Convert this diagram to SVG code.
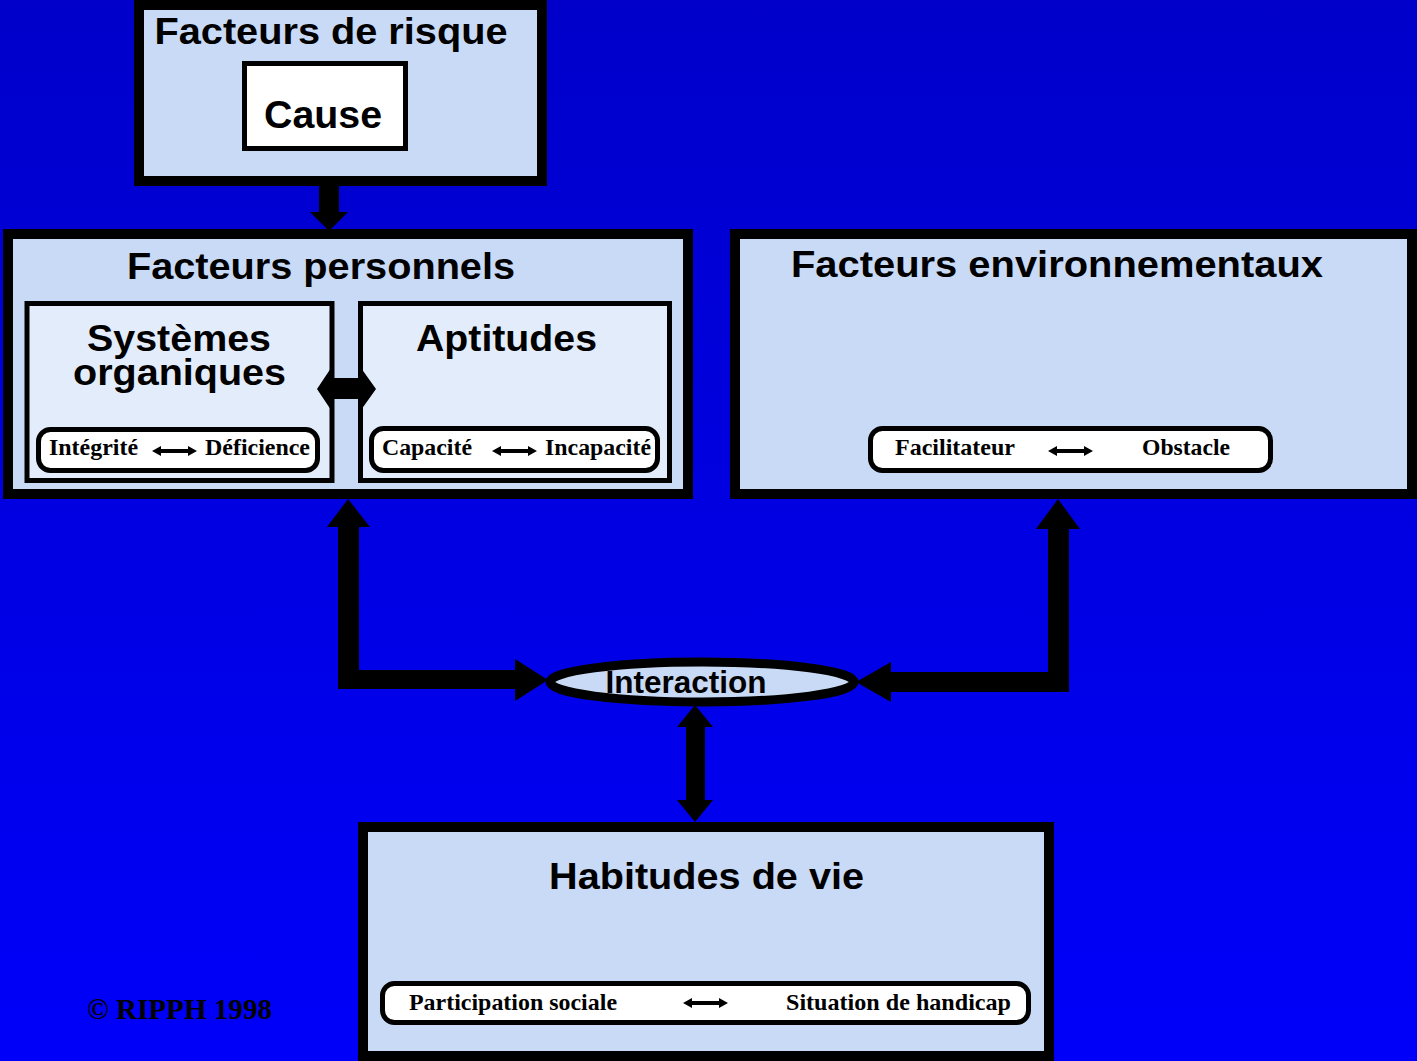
<svg xmlns="http://www.w3.org/2000/svg" width="1417" height="1061" viewBox="0 0 1417 1061">
  <defs>
    <linearGradient id="bg" x1="0" y1="0" x2="0" y2="1">
      <stop offset="0" stop-color="#0000CA"/>
      <stop offset="1" stop-color="#0000FA"/>
    </linearGradient>
    <path id="smallArrow" d="M0,0 L9,-5 L9,-2 L36,-2 L36,-5 L45,0 L36,5 L36,2 L9,2 L9,5 Z" fill="#000"/>
    <style>
      .box { fill: #C8DAF6; stroke: #000; stroke-width: 10; }
      .sub { fill: #E3ECFA; stroke: #000; stroke-width: 5; }
      .pill { fill: #FFFFFF; stroke: #000; stroke-width: 5; }
      .title { font-family: "Liberation Sans", Arial, sans-serif; font-weight: bold; fill: #000; text-anchor: middle; }
      .pt { font-family: "Liberation Serif", "Times New Roman", serif; font-weight: bold; font-size: 23px; fill: #000; }
      .conn { fill: #000; }
    </style>
  </defs>

  <rect x="0" y="0" width="1417" height="1061" fill="url(#bg)"/>

  <g id="connectors">
    <polygon class="conn" points="319,150 339,150 339,212 348,212 329,231 310,212 319,212"/>
    <polygon class="conn" points="348,499 370,527 359,527 359,670 515,670 515,659 548,680 515,701 515,689 338,689 338,527 327,527"/>
    <polygon class="conn" points="1058,499 1080,529 1069,529 1069,692 891,692 891,702 856,682 891,662 891,672 1048,672 1048,529 1036,529"/>
    <polygon class="conn" points="695,705 713,727 705,727 705,800 713,800 695,822 677,800 686,800 686,727 677,727"/>
  </g>

  <g id="facteurs-risque">
    <rect class="box" x="139" y="5" width="403" height="176"/>
    <text class="title" x="331" y="44" font-size="37" textLength="353" lengthAdjust="spacingAndGlyphs">Facteurs de risque</text>
  </g>

  <g id="cause">
    <rect x="244.5" y="63.5" width="161" height="85" fill="#FFFFFF" stroke="#000" stroke-width="5"/>
    <text class="title" x="323" y="128" font-size="38" textLength="118" lengthAdjust="spacingAndGlyphs">Cause</text>
  </g>

  <g id="facteurs-personnels">
    <rect class="box" x="8" y="234" width="680" height="260"/>
    <text class="title" x="321" y="279" font-size="37" textLength="388" lengthAdjust="spacingAndGlyphs">Facteurs personnels</text>
  </g>

  <g id="systemes-organiques">
    <rect class="sub" x="27" y="303.5" width="305" height="177"/>
    <text class="title" x="179" y="351" font-size="37" textLength="184" lengthAdjust="spacingAndGlyphs">Systèmes</text>
    <text class="title" x="179.5" y="385" font-size="37" textLength="213" lengthAdjust="spacingAndGlyphs">organiques</text>
    <rect class="pill" x="38.5" y="429.5" width="279" height="41" rx="12"/>
    <text class="pt" x="49" y="455" textLength="89" lengthAdjust="spacingAndGlyphs">Intégrité</text>
    <use href="#smallArrow" x="152" y="451"/>
    <text class="pt" x="205" y="455" textLength="105" lengthAdjust="spacingAndGlyphs">Déficience</text>
  </g>

  <g id="aptitudes">
    <rect class="sub" x="360.5" y="303.5" width="309" height="177"/>
    <text class="title" x="506.5" y="351" font-size="37" textLength="181" lengthAdjust="spacingAndGlyphs">Aptitudes</text>
    <rect class="pill" x="371.5" y="428.5" width="286" height="42" rx="12"/>
    <text class="pt" x="382" y="455" textLength="90" lengthAdjust="spacingAndGlyphs">Capacité</text>
    <use href="#smallArrow" x="492" y="451"/>
    <text class="pt" x="545" y="455" textLength="106" lengthAdjust="spacingAndGlyphs">Incapacité</text>
  </g>

  <g id="link-systemes-aptitudes">
    <polygon class="conn" points="317,389 331,368 331,378 361,378 361,368 376,389 361,410 361,399 331,399 331,410"/>
  </g>

  <g id="facteurs-environnementaux">
    <rect class="box" x="735" y="234" width="677" height="260"/>
    <text class="title" x="1057" y="277" font-size="37" textLength="532" lengthAdjust="spacingAndGlyphs">Facteurs environnementaux</text>
    <rect class="pill" x="870.5" y="428.5" width="400" height="42" rx="12"/>
    <text class="pt" x="895" y="455" textLength="120" lengthAdjust="spacingAndGlyphs">Facilitateur</text>
    <use href="#smallArrow" x="1048" y="451"/>
    <text class="pt" x="1142" y="455" textLength="88" lengthAdjust="spacingAndGlyphs">Obstacle</text>
  </g>

  <g id="interaction">
    <ellipse cx="702" cy="682" rx="152" ry="20" fill="#C8DAF6" stroke="#000" stroke-width="9"/>
    <text class="title" x="686" y="693" font-size="31" textLength="161" lengthAdjust="spacingAndGlyphs">Interaction</text>
  </g>

  <g id="habitudes-de-vie">
    <rect class="box" x="363" y="827" width="686" height="229"/>
    <text class="title" x="706.5" y="889" font-size="37" textLength="315" lengthAdjust="spacingAndGlyphs">Habitudes de vie</text>
    <rect class="pill" x="382.5" y="983.5" width="646" height="39" rx="12"/>
    <text class="pt" x="409" y="1010" textLength="208" lengthAdjust="spacingAndGlyphs">Participation sociale</text>
    <use href="#smallArrow" x="683" y="1003"/>
    <text class="pt" x="786" y="1010" textLength="225" lengthAdjust="spacingAndGlyphs">Situation de handicap</text>
  </g>

  <g id="copyright">
    <text x="87" y="1019" font-family="'Liberation Serif', 'Times New Roman', serif" font-weight="bold" font-size="29" fill="#000" textLength="185" lengthAdjust="spacingAndGlyphs">© RIPPH 1998</text>
  </g>
</svg>
